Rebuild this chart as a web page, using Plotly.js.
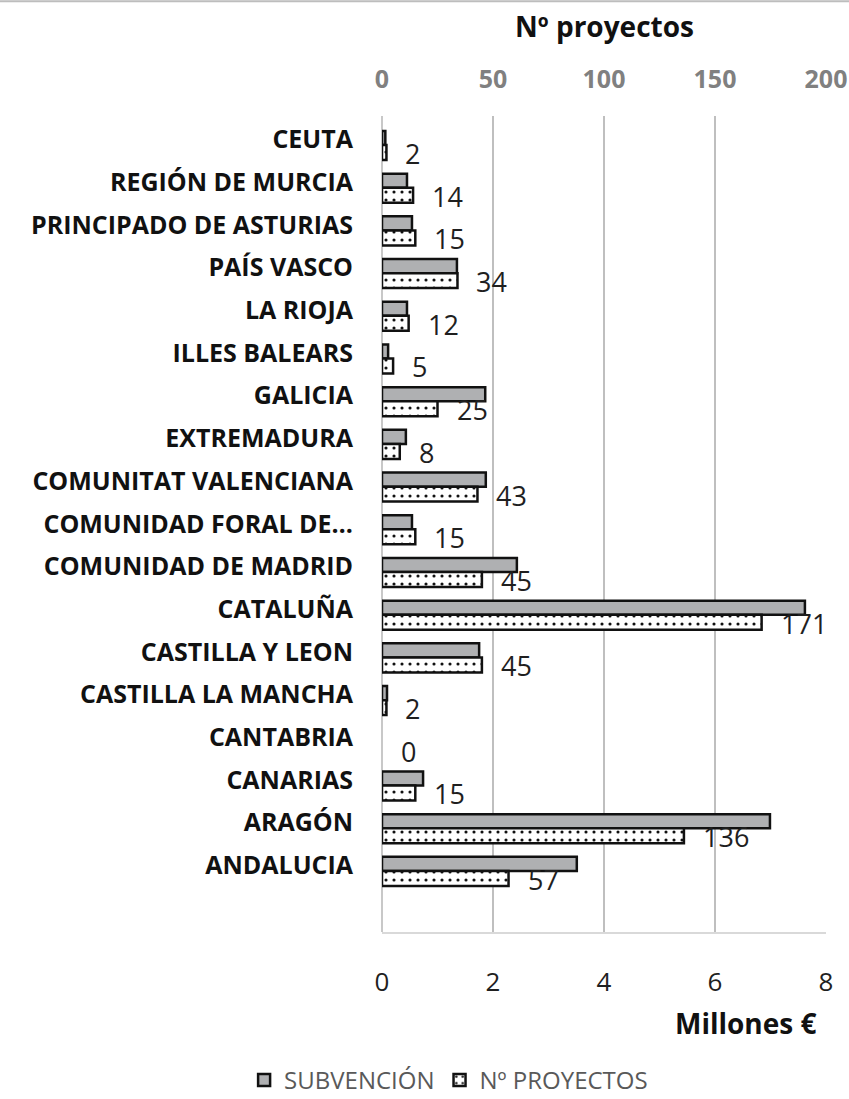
<!DOCTYPE html>
<html>
<head>
<meta charset="utf-8">
<script src="https://cdn.plot.ly/plotly-3.0.1.min.js"></script>
<style>
html,body{margin:0;padding:0;background:#fff;}
#chart{width:849px;height:1099px;}
</style>
</head>
<body>
<div id="chart"></div>
<script>
// Categories, top to bottom
const regiones = ["CEUTA","REGIÓN DE MURCIA","PRINCIPADO DE ASTURIAS","PAÍS VASCO","LA RIOJA","ILLES BALEARS","GALICIA","EXTREMADURA","COMUNITAT VALENCIANA","COMUNIDAD FORAL DE…","COMUNIDAD DE MADRID","CATALUÑA","CASTILLA Y LEON","CASTILLA LA MANCHA","CANTABRIA","CANARIAS","ARAGÓN","ANDALUCIA"];
// Subvención (millones €)
const subvencion = [0.06,0.45,0.54,1.35,0.45,0.11,1.86,0.43,1.87,0.54,2.43,7.62,1.75,0.09,0,0.74,6.99,3.51];
// Nº proyectos
const proyectos = [2,14,15,34,12,5,25,8,43,15,45,171,45,2,0,15,136,57];
const xTicksM = [0,2,4,6,8];
const xTicksP = [0,50,100,150,200];

const FONT = "'Open Sans', sans-serif";

const traceSub = {
  type:'bar', orientation:'h', name:'SUBVENCIÓN',
  y: regiones, x: subvencion, xaxis:'x', yaxis:'y',
  width: 0.33, offset: -0.2,
  marker:{color:'#AFB0B2', line:{color:'#111', width:subvencion.map(v=>v>0?2.5:0)}},
  hoverinfo:'x+y'
};
const traceProy = {
  type:'bar', orientation:'h', name:'Nº PROYECTOS',
  y: regiones, x: proyectos, xaxis:'x2', yaxis:'y',
  width: 0.35, offset: 0.13,
  marker:{color:'#fff', line:{color:'#111', width:proyectos.map(v=>v>0?2.5:0)},
    pattern:{shape:'.', fgcolor:'#111', bgcolor:'#fff', size:8, solidity:0.12}},
  hoverinfo:'x+y'
};

const labels = regiones.map((r,i)=>({
  x: proyectos[i], y: r, xref:'x2', yref:'y',
  text: String(proyectos[i]), showarrow:false,
  xanchor:'left', yanchor:'middle', xshift:17, yshift:-14,
  font:{family:FONT, size:27, color:'#1f1f1f'}
}));

labels.push({
  x:0.5, y:1.11, xref:'paper', yref:'paper', text:'<b>Nº proyectos</b>',
  showarrow:false, xanchor:'center', yanchor:'middle',
  font:{family:FONT, size:28, color:'#111'}
});
labels.push({
  x:0.985, y:-0.112, xref:'paper', yref:'paper', text:'<b>Millones €</b>',
  showarrow:false, xanchor:'right', yanchor:'middle',
  font:{family:FONT, size:28, color:'#111'}
});

const layout = {
  width:849, height:1099,
  margin:{l:382, r:23, t:116, b:167, autoexpand:false},
  paper_bgcolor:'#fff', plot_bgcolor:'#fff',
  font:{family:FONT, color:'#111'},
  showlegend:true,
  legend:{orientation:'h', x:0.15, xanchor:'center', y:0.017, yref:'container', yanchor:'middle',
    font:{family:FONT, size:24, color:'#595959'}, traceorder:'normal'},
  xaxis:{range:[0,8], tickvals:xTicksM, ticktext:xTicksM.map(String), side:'bottom',
    showgrid:true, gridcolor:'#BFBFBF', gridwidth:2,
    zeroline:true, zerolinecolor:'#C8C8C8', zerolinewidth:2,
    showline:true, linecolor:'#D9D9D9', linewidth:2,
    ticks:'', ticklabelstandoff:26,
    tickfont:{family:FONT, size:26, color:'#1f1f1f'}, fixedrange:true},
  xaxis2:{range:[0,200], tickvals:xTicksP, ticktext:xTicksP.map(String), side:'top',
    overlaying:'x', anchor:'y', showgrid:false, zeroline:false, showline:false,
    ticks:'', ticklabelstandoff:22,
    tickfont:{family:FONT, size:25, color:'#808080', weight:'bold'}, fixedrange:true},
  yaxis:{type:'category', categoryorder:'array', categoryarray:regiones,
    range:[18.56,-0.55], showgrid:false, zeroline:false, showline:false,
    ticks:'', ticklabelstandoff:28,
    tickfont:{family:FONT, size:25, color:'#111', weight:'bold'}, fixedrange:true},
  annotations: labels,
  shapes:[{type:'line', xref:'paper', yref:'paper', x0:-0.87, x1:1.06, y0:1.1405, y1:1.1405,
    line:{color:'#BDBDBD', width:2}}],
  bargap:0.3
};

Plotly.newPlot('chart',[traceSub, traceProy], layout, {displayModeBar:false, staticPlot:true});
</script>
</body>
</html>
